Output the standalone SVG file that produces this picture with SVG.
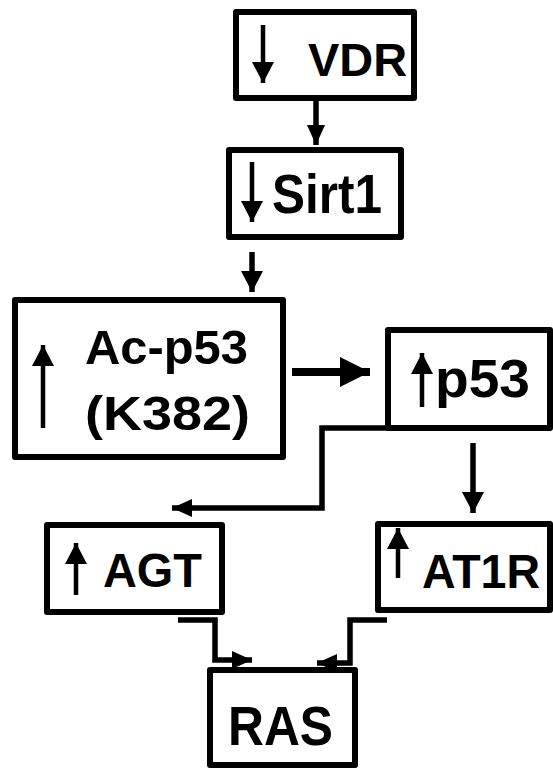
<svg xmlns="http://www.w3.org/2000/svg" width="553" height="770" viewBox="0 0 553 770">
<style>
.box{fill:#fff;stroke:#000;stroke-width:6;stroke-linejoin:round}
.lbl{font-family:"Liberation Sans",Arial,sans-serif;font-weight:bold;fill:#000}
.ia{stroke:#000;stroke-width:4.5;fill:none;marker-end:url(#h20)}
.con{stroke:#000;stroke-width:5.5;fill:none;stroke-linejoin:miter}
</style>
<defs>
<marker id="h20" markerUnits="userSpaceOnUse" viewBox="0 0 20 20" refX="20" refY="10" markerWidth="21" markerHeight="22" orient="auto" preserveAspectRatio="none"><path d="M0,0 L20,10 L0,20 Z" fill="#000"/></marker>
<marker id="hc" markerUnits="userSpaceOnUse" viewBox="0 0 20 20" refX="20" refY="10" markerWidth="20" markerHeight="18" orient="auto" preserveAspectRatio="none"><path d="M0,0 L20,10 L0,20 Z" fill="#000"/></marker>
<marker id="hb" markerUnits="userSpaceOnUse" viewBox="0 0 20 20" refX="20" refY="10" markerWidth="30" markerHeight="30" orient="auto"><path d="M0,0 L20,10 L0,20 Z" fill="#000"/></marker>
</defs>
<g id="connectors">
<path class="con" d="M316,98 V145" marker-end="url(#hc)"/>
<path class="con" d="M252,252 V292" marker-end="url(#h20)"/>
<path class="con" d="M292,372 H370" style="stroke-width:8" marker-end="url(#hb)"/>
<path class="con" d="M390,428 H322 V508 H172" marker-end="url(#hc)"/>
<path class="con" d="M473,443 V513" marker-end="url(#h20)"/>
<path class="con" d="M178,620 H215 V660 H252" marker-end="url(#hc)"/>
<path class="con" d="M387,620 H350 V663 H317" marker-end="url(#hc)"/>
</g>
<g id="VDR">
<rect class="box" x="236" y="12" width="178" height="86"/>
<path class="ia" d="M263,25 V83"/>
<text class="lbl" x="308" y="76" font-size="47" textLength="99" lengthAdjust="spacingAndGlyphs">VDR</text>
</g>
<g id="Sirt1">
<rect class="box" x="229" y="150" width="172" height="87"/>
<path class="ia" d="M252,162 V222"/>
<text class="lbl" x="272" y="213" font-size="55" textLength="110" lengthAdjust="spacingAndGlyphs">Sirt1</text>
</g>
<g id="Acp53">
<rect class="box" x="15" y="300" width="268" height="157"/>
<path class="ia" d="M43,428 V345"/>
<text class="lbl" x="85" y="364" font-size="48" textLength="163" lengthAdjust="spacingAndGlyphs">Ac-p53</text>
<text class="lbl" x="85" y="430" font-size="48" textLength="165" lengthAdjust="spacingAndGlyphs">(K382)</text>
</g>
<g id="p53">
<rect class="box" x="388" y="330" width="162" height="98"/>
<path class="ia" d="M422,407 V353"/>
<text class="lbl" x="435" y="397" font-size="53" textLength="95" lengthAdjust="spacingAndGlyphs">p53</text>
</g>
<g id="AGT">
<rect class="box" x="47" y="525" width="175" height="87"/>
<path class="ia" d="M76,595 V543"/>
<text class="lbl" x="103" y="587" font-size="48" textLength="99" lengthAdjust="spacingAndGlyphs">AGT</text>
</g>
<g id="AT1R">
<rect class="box" x="378" y="524" width="172" height="86"/>
<path class="ia" d="M398,578 V528"/>
<text class="lbl" x="422" y="588" font-size="49" textLength="118" lengthAdjust="spacingAndGlyphs">AT1R</text>
</g>
<g id="RAS">
<rect class="box" x="210" y="670" width="145" height="95"/>
<text class="lbl" x="228" y="745" font-size="55" textLength="105" lengthAdjust="spacingAndGlyphs">RAS</text>
</g>
</svg>
